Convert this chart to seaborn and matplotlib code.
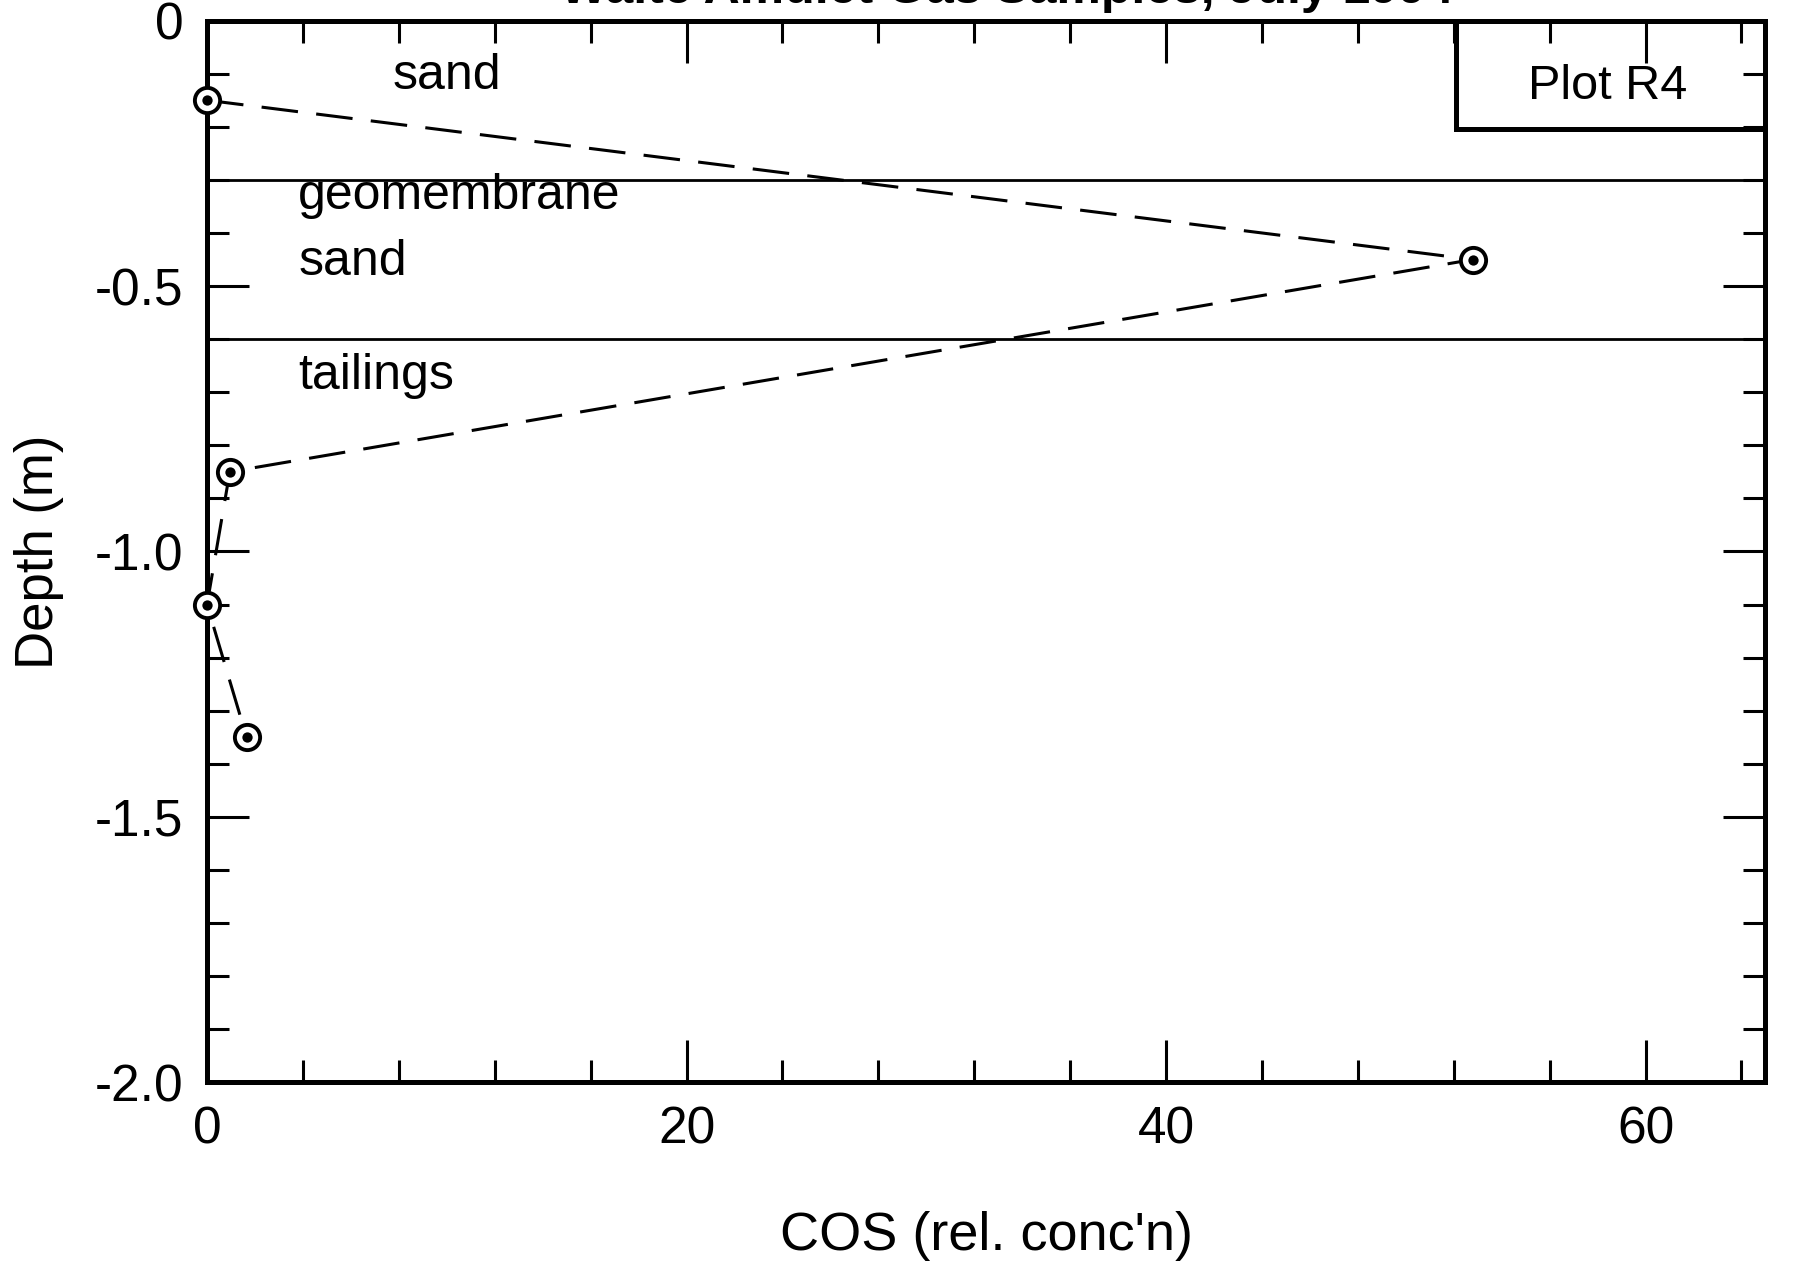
import matplotlib
matplotlib.use("Agg")
import matplotlib.pyplot as plt
from matplotlib.patches import Rectangle
from matplotlib.ticker import MultipleLocator
import seaborn as sns
import pandas as pd

# Soil-gas profile, COS relative concentration vs depth
cos_conc = [0.0, 52.8, 0.95, 0.0, 1.65]
depth_m = [-0.15, -0.45, -0.85, -1.10, -1.35]

# Layer boundaries (m) and layer labels: (text, x, y, ha)
boundaries = [-0.30, -0.60]
layer_labels = [("sand", 10.0, -0.105, "center"),
                ("geomembrane", 3.8, -0.33, "left"),
                ("sand", 3.8, -0.455, "left"),
                ("tailings", 3.8, -0.67, "left")]

x_ticks = [0, 20, 40, 60]
x_tick_labels = ["0", "20", "40", "60"]
y_ticks = [0.0, -0.5, -1.0, -1.5, -2.0]
y_tick_labels = ["0", "-0.5", "-1.0", "-1.5", "-2.0"]

title = "Waite Amulet Gas Samples, July 1994"
plot_tag = "Plot R4"

sns.set_theme(style="white")
plt.rcParams["font.family"] = ["Liberation Sans", "DejaVu Sans"]
plt.rcParams["text.color"] = "black"
plt.rcParams["axes.labelcolor"] = "black"
plt.rcParams["xtick.color"] = "black"
plt.rcParams["ytick.color"] = "black"

df = pd.DataFrame({"cos": cos_conc, "depth": depth_m})

fig = plt.figure(figsize=(17.94, 12.65), dpi=100)
ax = fig.add_axes([0.1154, 0.1444, 0.8687, 0.8393])

# profile joined in sampling order (by depth)
sns.lineplot(data=df, x="cos", y="depth", sort=False, estimator=None,
             ax=ax, color="black", linewidth=2.2, zorder=3)
ax.lines[0].set_dashes((12, 6))
ax.lines[0].set_dash_capstyle("butt")

# open circle markers with a centre dot
sns.scatterplot(data=df, x="cos", y="depth", ax=ax, s=330, marker="o",
                facecolor="white", edgecolor="black", linewidth=2.8,
                zorder=4, clip_on=False)
sns.scatterplot(data=df, x="cos", y="depth", ax=ax, s=55, marker="o",
                color="black", linewidth=0, zorder=5, clip_on=False)

for b in boundaries:
    ax.axhline(b, color="black", linewidth=2.0, zorder=2)

for text, x, y, ha in layer_labels:
    ax.text(x, y, text, fontsize=36, ha=ha, va="center", color="black")

ax.set_xlim(0, 65)
ax.set_ylim(-2.0, 0.0)

# label box in the upper right corner
ax.add_patch(Rectangle((52.1, -0.205), 65 - 52.1, 0.205, fill=False,
                       edgecolor="black", linewidth=3.6, zorder=2,
                       clip_on=False))
ax.text(58.4, -0.125, plot_tag, fontsize=35, ha="center", va="center")

ax.set_xticks(x_ticks)
ax.set_xticklabels(x_tick_labels)
ax.set_yticks(y_ticks)
ax.set_yticklabels(y_tick_labels)
ax.xaxis.set_minor_locator(MultipleLocator(4))
ax.yaxis.set_minor_locator(MultipleLocator(0.1))

ax.tick_params(which="both", direction="in", top=True, right=True,
               bottom=True, left=True, color="black", width=2.2)
ax.tick_params(which="major", length=30, labelsize=37, pad=17,
               labelcolor="black")
ax.tick_params(which="minor", length=16)

for s in ax.spines.values():
    s.set_visible(True)
    s.set_color("black")
    s.set_linewidth(3.6)

ax.set_xlabel("COS (rel. conc'n)", fontsize=39, labelpad=40, color="black")
ax.set_ylabel("Depth (m)", fontsize=38, labelpad=22, color="black")

fig.text(0.561, 1 - 3 / 1265, title, fontsize=36, ha="center",
         va="baseline", fontweight="bold")

fig.savefig("out.png", dpi=100, facecolor="white")
